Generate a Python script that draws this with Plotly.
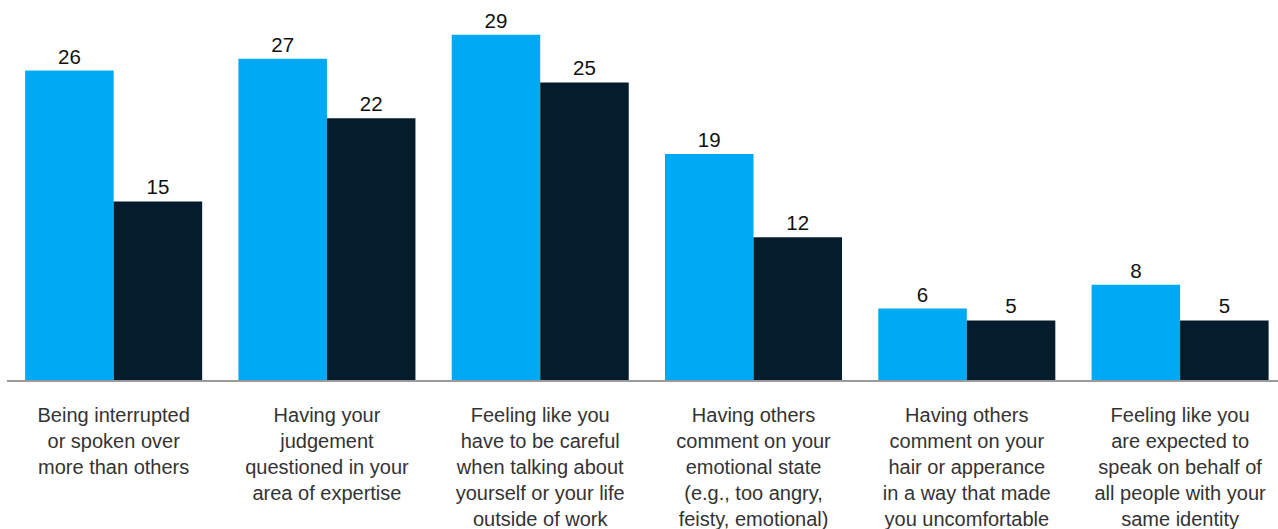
import plotly.graph_objects as go

categories = [
    "Being interrupted<br>or spoken over<br>more than others",
    "Having your<br>judgement<br>questioned in your<br>area of expertise",
    "Feeling like you<br>have to be careful<br>when talking about<br>yourself or your life<br>outside of work",
    "Having others<br>comment on your<br>emotional state<br>(e.g., too angry,<br>feisty, emotional)",
    "Having others<br>comment on your<br>hair or apperance<br>in a way that made<br>you uncomfortable",
    "Feeling like you<br>are expected to<br>speak on behalf of<br>all people with your<br>same identity",
]
series_a = [26, 27, 29, 19, 6, 8]
series_b = [15, 22, 25, 12, 5, 5]

LIGHT = "#00A9F4"
DARK = "#051C2C"
FONT = "Liberation Sans, Arial, sans-serif"

x = list(range(len(categories)))

fig = go.Figure()
for vals, color in [(series_a, LIGHT), (series_b, DARK)]:
    fig.add_trace(go.Bar(
        x=x, y=vals,
        marker=dict(color=color, line=dict(width=0)),
        text=[str(v) for v in vals],
        textposition="outside",
        cliponaxis=False,
        textfont=dict(family=FONT, size=20.5, color="#111111"),
        showlegend=False,
    ))

fig.update_layout(
    width=1278, height=529,
    margin=dict(l=7, r=0, t=0, b=149),
    barmode="group",
    bargap=0.17,
    bargroupgap=0,
    plot_bgcolor="white",
    paper_bgcolor="white",
    font=dict(family=FONT, size=20, color="#333333"),
    xaxis=dict(
        range=[-0.5, 5.459],
        tickmode="array", tickvals=x, ticktext=categories,
        showgrid=False, zeroline=False,
        showline=True, linecolor="#9a9a9a", linewidth=1.5,
        ticks="", ticklabelstandoff=16,
        tickfont=dict(family=FONT, size=20, color="#333333"),
        fixedrange=True,
    ),
    yaxis=dict(
        range=[0, 31.93], visible=False, showgrid=False, fixedrange=True,
    ),
)

fig.write_html("out.html")
